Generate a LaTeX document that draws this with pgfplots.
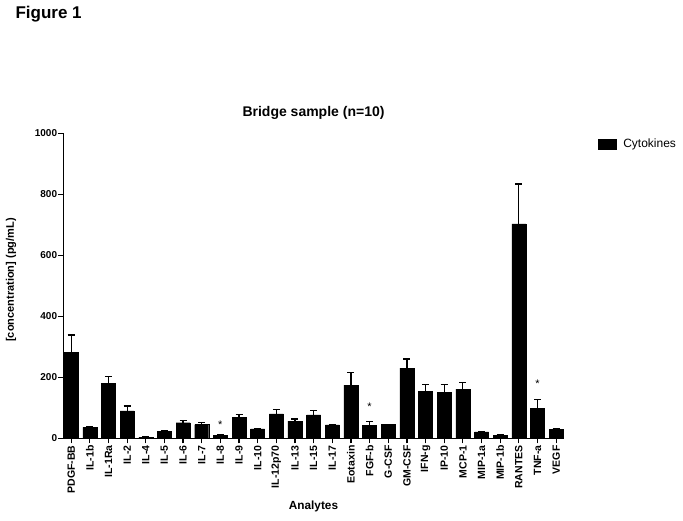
\documentclass[border=0pt]{standalone}
\usepackage{pgfplots}
\usepackage{pgfplotstable}
\pgfplotsset{compat=1.18}
\usepackage{fontspec}
\setmainfont{Liberation Sans}
\pgfplotstableread{
idx val err
0 282 57
1 36 4
2 180 23
3 90 16
4 4 1
5 23 2
6 51 7
7 45 6
8 10 1
9 69 8
10 31 1
11 80 14
12 56 7
13 77 13
14 44 1
15 174 41
16 42 12
17 45 1
18 230 30
19 153 24
20 151 26
21 161 22
22 21 1
23 10 1
24 703 131
25 99 27
26 30 1
}\datatable
\begin{document}
\begin{tikzpicture}
\useasboundingbox (0pt,0pt) rectangle (683pt,520pt);
\begin{axis}[
  at={(63.3pt,81.7pt)}, anchor=south west,
  scale only axis, width=500.7pt, height=305pt,
  xmin=-0.42, xmax=26.42, ymin=0, ymax=1000,
  ybar, bar width=14pt,
  axis lines=left,
  axis line style={-, line width=1.3pt, black},
  tick align=outside,
  major tick length=5pt,
  tick style={line width=1.2pt, black},
  xtick={0,...,26},
  xticklabels={PDGF-BB,IL-1b,IL-1Ra,IL-2,IL-4,IL-5,IL-6,IL-7,IL-8,IL-9,IL-10,IL-12p70,IL-13,IL-15,IL-17,Eotaxin,FGF-b,G-CSF,GM-CSF,IFN-g,IP-10,MCP-1,MIP-1a,MIP-1b,RANTES,TNF-a,VEGF},
  xticklabel style={rotate=90, anchor=east, font=\bfseries\fontsize{10.5}{12}\selectfont, inner sep=2pt},
  ytick={0,200,400,600,800,1000},
  yticklabel style={font=\bfseries\fontsize{10}{12}\selectfont, inner sep=1pt},
  /pgf/number format/assume math mode=true,
  /pgf/number format/1000 sep={},
  legend style={draw=none, fill=none, at={(axis description cs:1.0673,0.965)}, anchor=west, inner sep=0pt, font=\fontsize{12}{14}\selectfont, legend cell align=left},
  legend image code/.code={\fill[black] (0pt,-5pt) rectangle (18pt,5pt);},
  clip=false,
]
\addplot[fill=black, draw=black,
  error bars/.cd, y dir=plus, y explicit,
  error bar style={line width=1.2pt, black},
  error mark options={rotate=90, mark size=3.5pt, line width=1.2pt, black}]
  table[x=idx, y=val, y error=err] {\datatable};
\addlegendentry{\hspace{5pt}Cytokines}
\node[anchor=base, yshift=-6.4pt, font=\fontsize{11}{13}\selectfont] at (axis cs:8,54) {*};
\node[anchor=base, yshift=-6.4pt, font=\fontsize{11}{13}\selectfont] at (axis cs:16,113) {*};
\node[anchor=base, yshift=-6.4pt, font=\fontsize{11}{13}\selectfont] at (axis cs:25,186) {*};
\end{axis}
\node[anchor=west, font=\bfseries\fontsize{17}{20}\selectfont] at (12pt,506pt) {Figure 1};
\node[font=\bfseries\fontsize{14}{16}\selectfont] at (313.5pt,407pt) {Bridge sample (n=10)};
\node[rotate=90, font=\bfseries\fontsize{11}{13}\selectfont] at (11pt,240pt) {[concentration] (pg/mL)};
\node[font=\bfseries\fontsize{11.8}{14}\selectfont] at (313.5pt,13.3pt) {Analytes};
\end{tikzpicture}
\end{document}
